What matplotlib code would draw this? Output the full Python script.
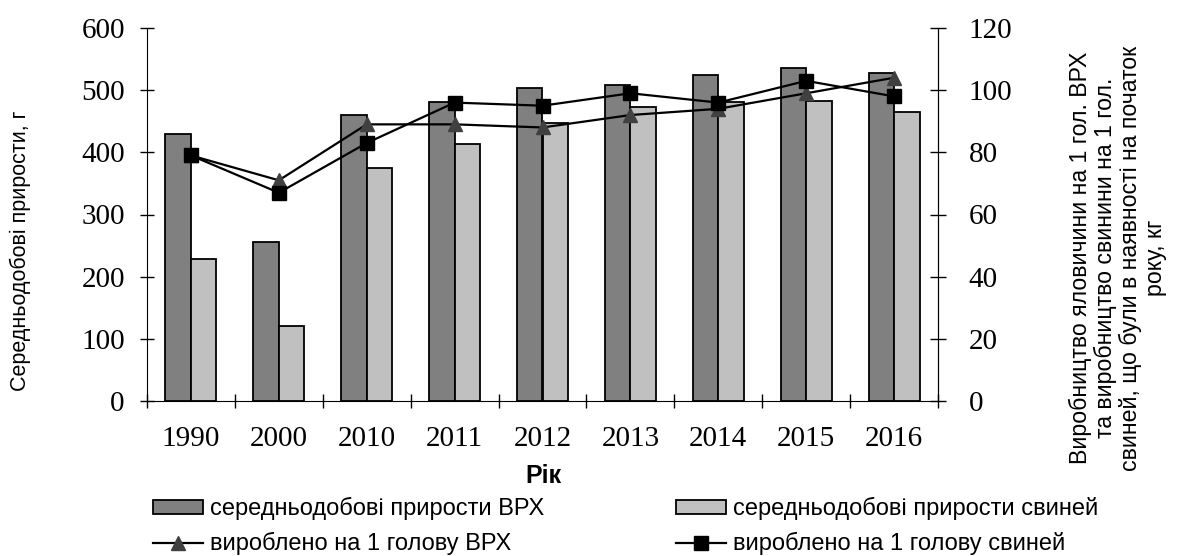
import matplotlib.pyplot as plt
import numpy as np

roky = ['1990', '2000', '2010', '2011', '2012', '2013', '2014', '2015', '2016']
prirosty_vrh = [430, 255, 460, 481, 503, 508, 525, 536, 528]
prirosty_svyni = [229, 120, 375, 413, 447, 473, 481, 482, 465]
vyrobleno_vrh = [79, 71, 89, 89, 88, 92, 94, 99, 104]
vyrobleno_svyni = [79, 67, 83, 96, 95, 99, 96, 103, 98]

serif = 'Liberation Serif'
sans = ['Liberation Sans', 'DejaVu Sans']

fig = plt.figure(figsize=(11.78, 5.56), dpi=100)
ax = fig.add_axes([147 / 1178, 1 - 401 / 556, (938 - 147) / 1178, (401 - 28) / 556])
ax2 = ax.twinx()

x = np.arange(len(roky))
w = 0.29
b1 = ax.bar(x - w / 2, prirosty_vrh, w, color='#808080', edgecolor='black', linewidth=1.3,
            label='середньодобові прирости ВРХ')
b2 = ax.bar(x + w / 2, prirosty_svyni, w, color='#c0c0c0', edgecolor='black', linewidth=1.3,
            label='середньодобові прирости свиней')

l1, = ax2.plot(x, vyrobleno_vrh, color='black', lw=1.6, marker='^', markersize=10.5,
               markerfacecolor='#404040', markeredgecolor='#404040',
               label='вироблено на 1 голову ВРХ')
l2, = ax2.plot(x, vyrobleno_svyni, color='black', lw=1.6, marker='s', markersize=10.5,
               markerfacecolor='black', markeredgecolor='black',
               label='вироблено на 1 голову свиней')

ax.set_xlim(-0.5, len(roky) - 0.5)
ax.set_ylim(0, 600)
ax2.set_ylim(0, 120)
ax.set_yticks(range(0, 601, 100))
ax2.set_yticks(range(0, 121, 20))
ax.set_xticks(x)
ax.set_xticklabels(roky)
ax.set_xticks(np.arange(-0.5, len(roky), 1), minor=True)

for a in (ax, ax2):
    a.spines['top'].set_visible(False)
ax2.spines['left'].set_visible(False)
ax2.spines['bottom'].set_visible(False)

ax.tick_params(axis='x', which='major', length=0, pad=18)
ax.tick_params(axis='x', which='minor', direction='inout', length=10, width=1)
ax.tick_params(axis='y', direction='inout', length=10, width=1, pad=11)
ax2.tick_params(axis='y', direction='inout', length=12, width=1, pad=16)

for lab in ax.get_xticklabels() + ax.get_yticklabels() + ax2.get_yticklabels():
    lab.set_fontfamily(serif)
    lab.set_fontsize(21)

fig.text(20 / 1178, 1 - 251 / 556, 'Середньодобові прирости, г', rotation=90,
         ha='center', va='center', family=sans, fontsize=15.5)
fig.text(543 / 1178, 1 - 476 / 556, 'Рік', ha='center', va='center',
         family=sans, fontsize=18, fontweight='bold')

fig.text(1118 / 1178, 1 - 258 / 556,
         'Виробництво яловичини на 1 гол. ВРХ\nта виробництво свинини на 1 гол.\n'
         'свиней, що були в наявності на початок\nроку, кг',
         rotation=90, ha='center', va='center', multialignment='center',
         family=sans, fontsize=16.7, linespacing=1.09)

fig.legend([b1, l1, b2, l2],
           [b1.get_label(), l1.get_label(), b2.get_label(), l2.get_label()],
           ncol=2, loc='upper left', bbox_to_anchor=(153 / 1178, 1 - 497 / 556),
           frameon=False, prop={'family': sans, 'size': 17},
           handlelength=2.1, handleheight=0.5, handletextpad=0.3, columnspacing=5.6,
           labelspacing=0.5, borderaxespad=0, borderpad=0)

fig.savefig('out.png', dpi=100)
